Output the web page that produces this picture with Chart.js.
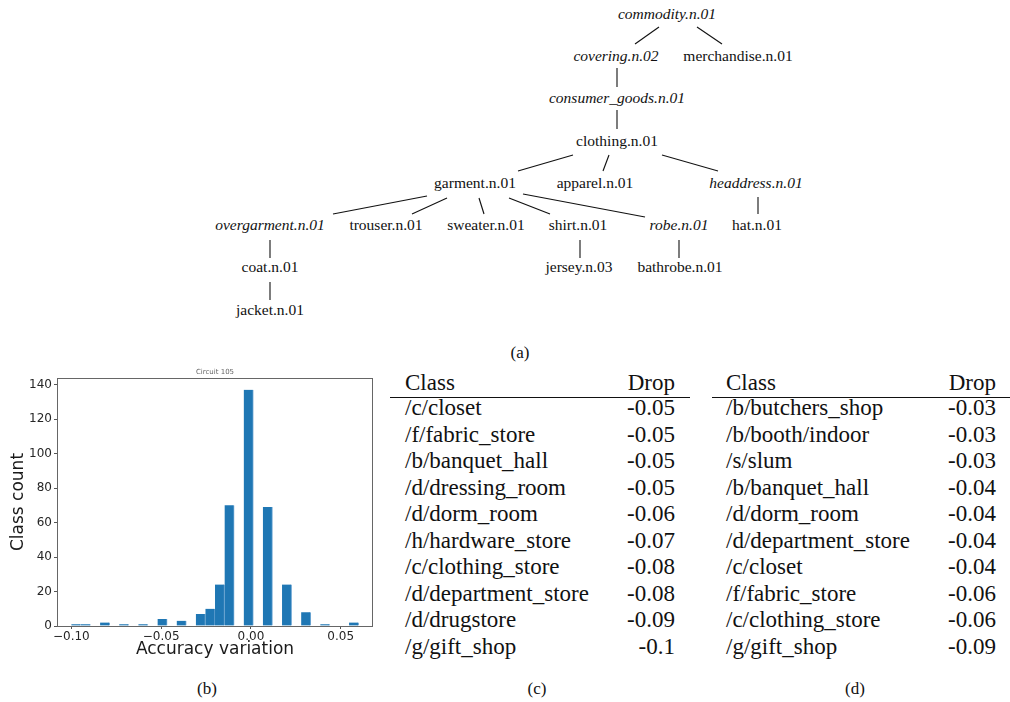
<!DOCTYPE html>
<html>
<head>
<meta charset="utf-8">
<script src="https://cdn.jsdelivr.net/npm/chart.js@4.4.0/dist/chart.umd.min.js"></script>
<style>
  html, body { margin: 0; padding: 0; background: #fff; }
  #wrap { position: relative; width: 1010px; height: 702px; overflow: hidden; }
  #fig { position: absolute; left: 0; top: 0; }
  #hist { position: absolute; left: 0; top: 368px; }
  svg text { font-family: "Liberation Serif", "Times New Roman", serif; fill: #111; }
</style>
</head>
<body>
<div id="wrap">
  <svg id="fig" width="1010" height="702" xmlns="http://www.w3.org/2000/svg"></svg>
  <canvas id="hist" width="390" height="302"></canvas>
</div>
<script>
// (b) histogram of accuracy variation, 30 bins between -0.10 and 0.06
const binCenters = [-0.09733, -0.09200, -0.08667, -0.08133, -0.07600, -0.07067,
  -0.06533, -0.06000, -0.05467, -0.04933, -0.04400, -0.03867, -0.03333, -0.02800,
  -0.02267, -0.01733, -0.01200, -0.00667, -0.00133, 0.00400, 0.00933, 0.01467,
  0.02000, 0.02533, 0.03067, 0.03600, 0.04133, 0.04667, 0.05200, 0.05733];
const classCounts = [1, 1, 0, 2, 0, 1, 0, 1, 0, 4, 0, 3, 0, 7, 10, 24, 70, 0, 137, 0,
  69, 0, 24, 0, 8, 0, 1, 0, 0, 2];
const xTickValues = [-0.10, -0.05, 0.00, 0.05];
const yTickValues = [0, 20, 40, 60, 80, 100, 120, 140];

// (c) and (d) tables
const tableCClasses = ['/c/closet', '/f/fabric_store', '/b/banquet_hall', '/d/dressing_room',
  '/d/dorm_room', '/h/hardware_store', '/c/clothing_store', '/d/department_store',
  '/d/drugstore', '/g/gift_shop'];
const tableCDrops = ['-0.05', '-0.05', '-0.05', '-0.05', '-0.06', '-0.07', '-0.08', '-0.08', '-0.09', '-0.1'];
const tableDClasses = ['/b/butchers_shop', '/b/booth/indoor', '/s/slum', '/b/banquet_hall',
  '/d/dorm_room', '/d/department_store', '/c/closet', '/f/fabric_store',
  '/c/clothing_store', '/g/gift_shop'];
const tableDDrops = ['-0.03', '-0.03', '-0.03', '-0.04', '-0.04', '-0.04', '-0.04', '-0.06', '-0.06', '-0.09'];

// (a) WordNet tree: label, centre x, row, italic
const treeNodes = [
  ['commodity.n.01', 667, 0, true],
  ['covering.n.02', 616, 1, true],
  ['merchandise.n.01', 738, 1, false],
  ['consumer_goods.n.01', 617, 2, true],
  ['clothing.n.01', 617, 3, false],
  ['garment.n.01', 475, 4, false],
  ['apparel.n.01', 595, 4, false],
  ['headdress.n.01', 756, 4, true],
  ['overgarment.n.01', 270, 5, true],
  ['trouser.n.01', 386, 5, false],
  ['sweater.n.01', 486, 5, false],
  ['shirt.n.01', 578, 5, false],
  ['robe.n.01', 679, 5, true],
  ['hat.n.01', 757, 5, false],
  ['coat.n.01', 270, 6, false],
  ['jersey.n.03', 579, 6, false],
  ['bathrobe.n.01', 680, 6, false],
  ['jacket.n.01', 270, 7, false]
];
const treeEdges = [
  [659, 27, 635, 44], [697, 27, 722, 44],
  [617, 68, 617, 87], [617, 110, 617, 129],
  [573, 155, 518, 171], [609, 155, 603, 171], [662, 155, 718, 171],
  [427, 196, 333, 214], [447, 198, 412, 214], [479, 198, 484, 214],
  [509, 198, 550, 214], [523, 194, 645, 217], [758, 197, 758, 214],
  [270, 240, 270, 258], [270, 282, 270, 300],
  [580, 240, 580, 258], [679, 240, 679, 258]
];
const rowBaselines = [19, 61.2, 103.4, 145.6, 187.8, 230, 272.4, 314.8];

const NS = 'http://www.w3.org/2000/svg';
const svg = document.getElementById('fig');
function addText(str, x, y, size, anchor, italic) {
  const t = document.createElementNS(NS, 'text');
  t.setAttribute('x', x);
  t.setAttribute('y', y);
  t.setAttribute('font-size', size);
  t.setAttribute('text-anchor', anchor);
  if (italic) t.setAttribute('font-style', 'italic');
  t.textContent = str;
  svg.appendChild(t);
}
function addLine(x1, y1, x2, y2, w) {
  const l = document.createElementNS(NS, 'line');
  l.setAttribute('x1', x1); l.setAttribute('y1', y1);
  l.setAttribute('x2', x2); l.setAttribute('y2', y2);
  l.setAttribute('stroke', '#111');
  l.setAttribute('stroke-width', w || 1);
  svg.appendChild(l);
}

treeNodes.forEach(n => addText(n[0], n[1], rowBaselines[n[2]], 15.5, 'middle', n[3]));
treeEdges.forEach(e => addLine(e[0], e[1], e[2], e[3], 1.1));

function drawTable(classes, drops, left, right, ruleL, ruleR) {
  addText('Class', left, 389.5, 23, 'start');
  addText('Drop', right, 389.5, 23, 'end');
  addLine(ruleL, 397.5, ruleR, 397.5, 1.2);
  classes.forEach((c, i) => {
    const y = 415 + 26.55 * i;
    addText(c, left, y, 23, 'start');
    addText(drops[i], right, y, 23, 'end');
  });
}
drawTable(tableCClasses, tableCDrops, 405, 675, 390, 690);
drawTable(tableDClasses, tableDDrops, 726, 996, 712, 1010);

addText('(a)', 520, 358, 17, 'middle');
addText('(b)', 207, 694, 17, 'middle');
addText('(c)', 537, 694, 17, 'middle');
addText('(d)', 855, 694, 17, 'middle');

// histogram
const fmtX = v => (v < -1e-9 ? '\u2212' : '') + Math.abs(v).toFixed(2);

const framePlugin = {
  id: 'frame',
  afterDraw(chart) {
    const {ctx, chartArea: a} = chart;
    ctx.save();
    ctx.strokeStyle = '#666';
    ctx.lineWidth = 1;
    ctx.strokeRect(Math.round(a.left) + 0.5, Math.round(a.top) + 0.5,
      Math.round(a.right - a.left) - 1, Math.round(a.bottom - a.top));
    ctx.font = '7px "DejaVu Sans"';
    ctx.fillStyle = '#666';
    ctx.textAlign = 'center';
    ctx.textBaseline = 'bottom';
    ctx.fillText('Circuit 105', (a.left + a.right) / 2, a.top - 2);
    ctx.restore();
  }
};

new Chart(document.getElementById('hist'), {
  type: 'bar',
  data: {
    datasets: [{
      data: binCenters.map((x, i) => ({x: x, y: classCounts[i]})),
      backgroundColor: '#1f77b4',
      borderColor: '#6ea6d3',
      borderWidth: {top: 0, right: 1, bottom: 0, left: 0},
      borderSkipped: false,
      barPercentage: 1,
      categoryPercentage: 1
    }]
  },
  options: {
    responsive: false,
    animation: false,
    devicePixelRatio: 1,
    layout: {padding: {top: 10, right: 17, left: 0, bottom: 0}},
    plugins: {legend: {display: false}, tooltip: {enabled: false}},
    scales: {
      x: {
        type: 'linear',
        offset: false,
        min: -0.108,
        max: 0.068,
        afterFit(s) { s.height = 44; },
        afterBuildTicks(s) { s.ticks = xTickValues.map(v => ({value: v})); },
        ticks: {
          callback: v => fmtX(v),
          font: {family: 'DejaVu Sans', size: 12},
          color: '#262626',
          padding: 1,
          maxRotation: 0,
          autoSkip: false
        },
        grid: {drawOnChartArea: false, offset: false, tickLength: 3, color: '#555'},
        border: {display: false},
        title: {
          display: true,
          text: 'Accuracy variation',
          font: {family: 'DejaVu Sans', size: 17},
          color: '#1a1a1a',
          padding: {top: 0, bottom: 10}
        }
      },
      y: {
        min: 0,
        max: 143.85,
        afterFit(s) { s.width = 57; },
        afterBuildTicks(s) { s.ticks = yTickValues.map(v => ({value: v})); },
        ticks: {
          font: {family: 'DejaVu Sans', size: 12},
          color: '#262626',
          padding: 2,
          autoSkip: false
        },
        grid: {drawOnChartArea: false, tickLength: 3, color: '#555'},
        border: {display: false},
        title: {
          display: true,
          text: 'Class count',
          font: {family: 'DejaVu Sans', size: 17},
          color: '#1a1a1a',
          padding: {top: 8, bottom: 0}
        }
      }
    }
  },
  plugins: [framePlugin]
});
</script>
</body>
</html>
